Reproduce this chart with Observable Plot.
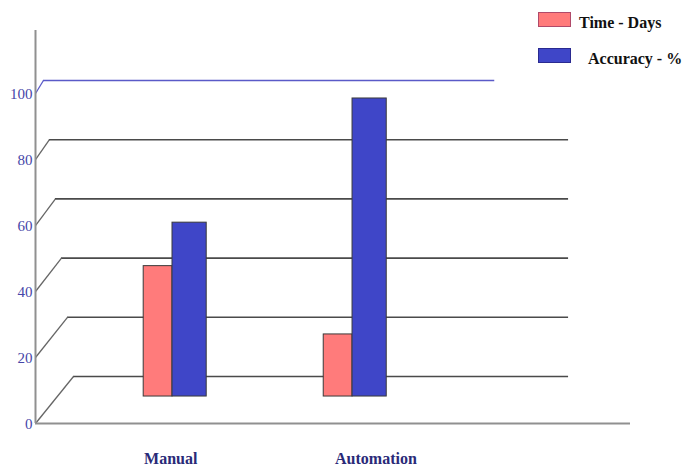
<!DOCTYPE html>
<html>
<head>
<meta charset="utf-8">
<script src="https://cdn.jsdelivr.net/npm/d3@7"></script>
<script src="https://cdn.jsdelivr.net/npm/@observablehq/plot@0.6"></script>
<style>
  html, body { margin: 0; padding: 0; background: #fff; }
  #wrap { position: relative; width: 688px; height: 468px; overflow: hidden; }
  #legend { position: absolute; left: 538px; top: 10px; font-family: "Liberation Serif", serif; font-weight: bold; font-size: 16px; color: #111; }
  .item { position: absolute; white-space: nowrap; }
  .sw { position: absolute; width: 33px; height: 15px; box-sizing: border-box; }
</style>
</head>
<body>
<div id="wrap">
  <div id="chart"></div>
  <div id="legend"></div>
</div>
<script>
// ---- data ----
const categories = ["Manual", "Automation"];
const seriesNames = ["Time - Days", "Accuracy - %"];
const timeDays = [42, 20];
const accuracyPct = [56, 96];
const yTicks = [0, 20, 40, 60, 80, 100];
const seriesColors = ["#ff7b7b", "#3f46c8"];

// ---- pseudo-3D geometry (front plane = y scale units) ----
const X_MIN = -0.761, X_MAX = 2.544, Y_TOP = 119.1;
const BACK_SHIFT = 14.24, BACK_SHRINK = 0.103, BAR_Z = 0.574;
const proj = (v, z) => v * (1 - BACK_SHRINK * z) + BACK_SHIFT * z;
const backLeft = v => -0.55 - 0.00167 * v;
const BACK_RIGHT = 2.2, TOP_RIGHT = 1.79;
const labelX = i => -0.01 + 1.14 * i;
const TIME_W = 0.16, ACC_W = 0.19;

const rows = [];
categories.forEach((c, i) => {
  rows.push({cat: c, i, series: seriesNames[0], value: timeDays[i], x1: i - TIME_W, x2: i, fill: seriesColors[0]});
  rows.push({cat: c, i, series: seriesNames[1], value: accuracyPct[i], x1: i, x2: i + ACC_W, fill: seriesColors[1]});
});

const grayTicks = yTicks.filter(v => v < 100);
const topTicks = yTicks.filter(v => v === 100);

const chart = Plot.plot({
  width: 688,
  height: 468,
  marginLeft: 35,
  marginRight: 58,
  marginTop: 30,
  marginBottom: 45,
  x: {domain: [X_MIN, X_MAX], axis: null},
  y: {domain: [0, Y_TOP], axis: null},
  style: {background: "#fff"},
  marks: [
    // back wall gridlines
    Plot.ruleY(grayTicks, {y: v => proj(v, 1), x1: v => backLeft(v), x2: BACK_RIGHT, stroke: "#4a4a4a", strokeWidth: 1.6}),
    Plot.ruleY(topTicks, {y: v => proj(v, 1), x1: v => backLeft(v), x2: TOP_RIGHT, stroke: "#5a5ac8", strokeWidth: 1.3}),
    // side-wall diagonals
    Plot.link(grayTicks, {x1: X_MIN, y1: v => v, x2: v => backLeft(v), y2: v => proj(v, 1), stroke: "#666", strokeWidth: 1.3}),
    Plot.link(topTicks, {x1: X_MIN, y1: v => v, x2: v => backLeft(v), y2: v => proj(v, 1), stroke: "#5a5ac8", strokeWidth: 1.3}),
    // front axis and floor
    Plot.ruleX([X_MIN], {y1: 0, y2: Y_TOP, stroke: "#909090", strokeWidth: 2}),
    Plot.ruleY([0], {x1: X_MIN, x2: X_MAX, stroke: "#909090", strokeWidth: 2}),
    // bars
    Plot.rect(rows, {x1: "x1", x2: "x2", y1: () => proj(0, BAR_Z), y2: d => proj(d.value, BAR_Z), fill: "fill", stroke: "#3a3a3a", strokeWidth: 1}),
    // y tick labels
    Plot.text(yTicks, {x: X_MIN, y: v => v, text: v => String(v), textAnchor: "end", dx: -3, dy: 1, fill: "#4646a8", fontSize: 15, fontFamily: "Liberation Serif"}),
    // category labels
    Plot.text(categories, {x: (d, i) => labelX(i), y: 0, text: d => d, dy: 35, fill: "#2a2a78", fontSize: 16, fontWeight: "bold", fontFamily: "Liberation Serif"})
  ]
});
document.getElementById("chart").appendChild(chart);

// legend
const legend = document.getElementById("legend");
const offsets = [{sy: 2, ty: 4, tx: 41}, {sy: 38, ty: 40, tx: 50}];
seriesNames.forEach((name, k) => {
  const sw = document.createElement("div");
  sw.className = "sw";
  sw.style.top = offsets[k].sy + "px";
  sw.style.left = "0px";
  sw.style.background = seriesColors[k];
  sw.style.border = "1px solid " + (k === 0 ? "#b04a6a" : "#2a2a90");
  legend.appendChild(sw);
  const t = document.createElement("div");
  t.className = "item";
  t.style.top = offsets[k].ty + "px";
  t.style.left = offsets[k].tx + "px";
  t.textContent = name;
  legend.appendChild(t);
});
</script>
</body>
</html>
